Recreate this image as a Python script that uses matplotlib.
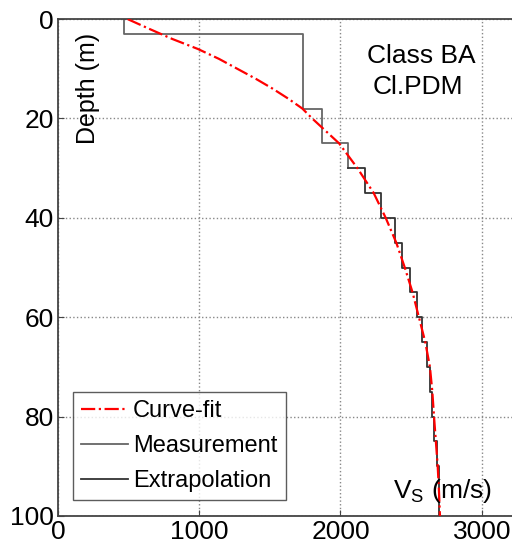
import matplotlib
matplotlib.use("Agg")
import matplotlib.pyplot as plt

plt.rcParams['font.family'] = ['Liberation Sans', 'DejaVu Sans']

# step profile: layer tops/bottoms (m) and Vs (m/s)
meas_depth = [0, 3, 18, 25, 30]
meas_vs = [470, 1735, 1870, 2050]
extra_depth = [30, 35, 40, 45, 50, 55, 60, 65, 70, 75, 80, 85, 90, 100]
extra_vs = [2175, 2285, 2385, 2437, 2495, 2545, 2575, 2610, 2633, 2648, 2662, 2681, 2697]

# curve-fit
fit_depth = [0, 2, 4, 6, 8, 10, 12, 14, 16, 18, 20, 25, 30, 35, 40, 45, 50,
             55, 60, 65, 70, 75, 80, 85, 90, 95, 100]
fit_vs = [494, 650, 810, 990, 1140, 1270, 1400, 1520, 1630, 1730, 1800, 1990,
          2120, 2235, 2320, 2395, 2455, 2510, 2555, 2600, 2633, 2650, 2662,
          2675, 2688, 2697, 2704]

xticks = [0, 1000, 2000, 3000]
yticks = [0, 20, 40, 60, 80, 100]


def steps(depths, vs, prev=None):
    xs, ys = [], []
    if prev is not None:
        xs.append(prev)
        ys.append(depths[0])
    for i, v in enumerate(vs):
        xs += [v, v]
        ys += [depths[i], depths[i + 1]]
    return xs, ys


fig = plt.figure(figsize=(5.12, 5.46), dpi=100)
ax = fig.add_axes([0.113, 0.055, 0.897, 0.91])

mx, my = steps(meas_depth, meas_vs)
ex, ey = steps(extra_depth, extra_vs, prev=meas_vs[-1])
l1, = ax.plot(fit_vs, fit_depth, color='red', ls='-.', lw=1.6, zorder=3)
l2, = ax.plot(mx, my, color='#666666', lw=1.3, zorder=2)
l3, = ax.plot(ex, ey, color='#333333', lw=1.3, zorder=2)

ax.set_xlim(0, 3250)
ax.set_ylim(100, 0)
ax.set_xticks(xticks)
ax.set_yticks(yticks)
ax.grid(True, ls=':', color='#888888', lw=1.0)
ax.tick_params(direction='in', length=4, labelsize=19, color='#444444', pad=3)
for s in ax.spines.values():
    s.set_color('#444444')
    s.set_linewidth(1.3)

ax.text(0.065, 0.86, 'Depth (m)', rotation=90, transform=ax.transAxes,
        fontsize=18, ha='center', va='center')
ax.text(2570, 7.5, 'Class BA', fontsize=19, ha='center', va='center')
ax.text(2550, 13.6, 'Cl.PDM', fontsize=19, ha='center', va='center')
ax.text(2370, 95, r'V$_\mathregular{S}$ (m/s)', fontsize=19, ha='left',
        va='center')

leg = ax.legend([l1, l2, l3], ['Curve-fit', 'Measurement', 'Extrapolation'],
                loc='lower left', bbox_to_anchor=(0.033, 0.032), fontsize=17,
                frameon=True, fancybox=False, handlelength=2.0,
                handletextpad=0.2, labelspacing=0.55, borderpad=0.35,
                borderaxespad=0)
leg.get_frame().set_edgecolor('#333333')
leg.get_frame().set_linewidth(1.0)

fig.savefig('out.png', dpi=100)
